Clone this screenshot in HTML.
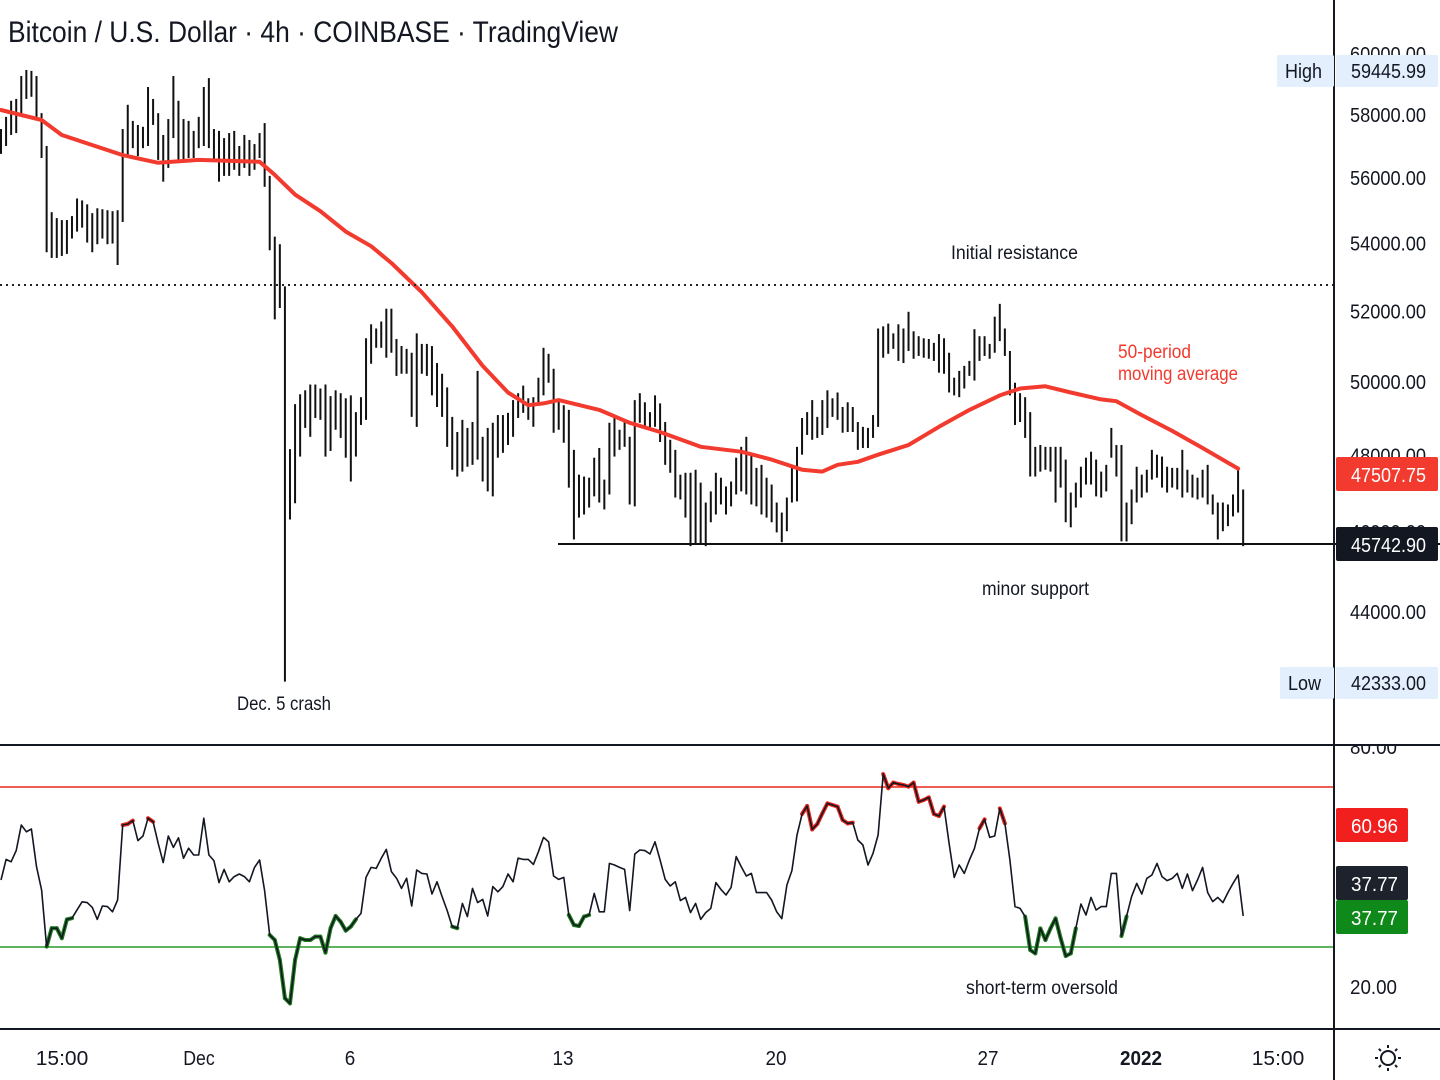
<!DOCTYPE html>
<html><head><meta charset="utf-8"><style>
html,body{margin:0;padding:0;background:#fff;}
svg{display:block;font-family:"Liberation Sans",sans-serif;}
</style></head><body>
<svg id="chart" width="1440" height="1080" viewBox="0 0 1440 1080" xmlns="http://www.w3.org/2000/svg">
<rect x="0" y="0" width="1440" height="1080" fill="#fff"/>
<g id="bars"></g>
<g id="ma"></g>
<g id="rsi"></g>
<g id="ann"></g>
<g id="axes"></g>
</svg>
<script>
const highs=[57550,57940,58460,58520,59270,59470,59440,59270,58060,57010,
54950,54770,54710,54710,54830,55370,55310,55190,54920,55070,
55040,55010,54980,55010,57550,58330,57810,57680,57620,58910,
58520,58060,57360,57870,59270,58460,57870,57810,57490,57940,
58910,59200,57550,57490,57260,57420,57490,57010,57360,57200,
57070,57420,57740,56070,54210,53980,52730,48170,49390,49660,
49770,49930,49930,49820,49930,49610,49770,49690,49550,49630,
49170,49580,51230,51630,51510,51710,52080,52080,51210,51010,
50930,50820,51370,51070,51070,51010,50530,50230,49850,49040,
48630,48960,48740,48900,50310,48500,48740,48880,49090,49090,
49150,49500,49690,49900,49550,49580,50120,50960,50790,50370,
49500,49360,49230,48150,47490,47440,47410,47940,48200,47360,
48880,49010,48690,48960,48500,49500,49690,49440,49170,49630,
49410,48900,48420,48150,47490,47540,47540,47620,47280,46760,
47050,47540,47410,47180,47310,47940,48230,48500,48070,47670,
47750,47410,47230,46760,46500,46890,47700,48230,49010,49170,
49500,49040,49500,49770,49550,49710,49310,49440,49310,48900,
48770,48740,49090,51510,51570,51650,51370,51630,51510,51990,
51430,51290,51230,51210,51100,51350,51230,50820,50120,50310,
50450,50590,51490,51290,51290,51070,51850,52220,51510,50870,
49980,49690,49580,49170,48230,48280,48230,48230,48230,48230,
47890,47020,47280,47700,47940,48100,47890,47570,47750,48740,
48280,48280,46760,47100,47700,47490,47620,48150,48020,47970,
47700,47670,47670,48150,47620,47490,47410,47620,47750,46970,
46760,46760,46710,46970,47700,47100];
const lows=[56760,57010,57360,57420,58060,58520,58590,57940,56630,53740,
53570,53570,53630,53690,54150,54360,54480,54030,53740,53980,
54150,53980,54000,53360,54650,56690,56940,56690,56940,57010,
57680,56570,55890,56320,57260,56510,56570,56630,56630,56940,
57010,56940,56570,55890,56070,56070,56260,56070,56320,56070,
56260,56630,55730,53800,51770,52100,42330,46320,46740,47970,
48740,48500,49010,48960,47970,48120,48690,48470,47940,47310,
47970,48820,48960,50510,50960,50960,50680,50820,50170,50230,
50230,49040,48770,50230,50170,49630,49310,49040,48230,47620,
47440,47570,47700,47750,47890,47310,47050,46920,47940,48070,
48280,48500,49010,49150,48960,48770,49440,49630,49980,48610,
48690,48340,47150,45810,46370,46450,46630,46920,46760,46580,
46970,47970,48150,48230,46710,46660,48880,48770,48740,48770,
48360,47750,47540,46890,46840,46370,45640,45690,45690,45640,
46250,46450,46710,46450,46660,46970,47050,46970,46710,46660,
46450,46370,46250,45990,45740,46020,46760,46790,48020,48550,
48420,48470,48550,48740,49040,48960,48610,48630,48630,48150,
48200,48200,48470,48770,50680,50790,50930,50590,50530,50870,
50650,50730,50680,50650,50590,50260,50230,49710,49630,49580,
49820,50170,50040,50590,50730,50650,50820,51150,50730,49630,
48820,48900,48470,47440,47440,47570,47620,47570,46760,47150,
46250,46120,46630,46890,47230,47230,46920,46890,47050,47940,
47440,45760,45760,46200,46760,46890,47020,47360,47410,47150,
47020,47150,47100,46890,47020,46890,46840,46890,46710,46450,
45810,46020,46150,46400,46500,45640];
const maIdx=[0,8,12,24,31,39,51,54,58,63,68,73,77,83,89,95,100,104,107,110,118,124,130,138,146,152,158,162,165,169,173,179,185,191,197,201,206,211,217,220,225,231,237,244];
const maVal=[58160,57840,57360,56720,56480,56570,56510,56100,55490,54980,54360,53920,53420,52560,51570,50450,49710,49360,49410,49500,49230,48880,48630,48230,48100,47890,47620,47570,47750,47830,48020,48280,48770,49230,49630,49820,49880,49710,49520,49470,49090,48660,48200,47650];
const rsiVals=[46.75,51.9,51.3,54.1,60.5,58.8,59.5,50.1,44.25,30.1,
34.7,34.7,32.2,36.9,37.2,39.3,41.3,41.1,39.9,36.9,
40.25,40.1,38.8,41.75,60.5,60.75,61.6,56.6,57.75,62.2,
61.3,55.9,51.1,57.75,54.9,57.3,52.2,54.7,53,53,
62.2,53,51.6,46.1,49.4,46.3,47.6,48.25,47.6,46.3,
49.9,51.75,44.1,33,31.75,26.75,17.2,15.9,26.75,32.2,
31.75,31.75,32.6,32.6,28.6,34.7,37.75,36.3,34.1,35.1,
36.9,38.4,47.4,49.9,49.65,52.2,54.4,48.85,47.2,44.65,
47.2,40.25,49.25,48.4,
48.25,43.25,46.3,42.6,39.1,35.1,34.7,40.9,37.6,
44.65,41.1,41.9,37.75,45.1,43.8,45.1,48.25,46.3,52.2,
51.9,51.9,50.65,53.8,57.4,56.3,47.75,46.9,47.4,38,
35.5,35.25,37.6,38,43.4,38.8,38.8,50.9,50.5,49.9,
49.4,39.1,53.25,54.25,54.1,53.25,56.3,51.75,46.9,45.25,
46.3,41.6,42.4,38.6,40.9,36.9,38.6,39.65,46.1,44.4,
43,44.9,52.6,50.1,47.75,48.4,43.6,43.6,43.6,41.75,
38.8,37.1,45.5,49.1,58,63.25,65.25,59.4,60.75,63.4,
65.9,65.5,
65.1,61.75,60.9,61.1,56.75,55.5,50.5,53.4,58,73.25,
69.7,71.1,70.75,70.5,70.1,71.1,66.3,66.75,67.4,63.25,
62.75,65.1,55.9,47.4,50.5,48.4,51.75,54.6,59.65,61.9,
57.4,57.75,64.65,60.9,51.75,40.1,39.65,37.6,29.25,
28.4,34.65,31.75,34.65,37.15,32.2,27.75,28.4,34.65,40.75,
38,42.4,39.25,40.1,40.1,48.4,48.4,32.75,37.6,42.6,
45.9,43.25,47.15,48,50.9,47.6,46.6,47.15,48.4,44.65,
48.25,44.1,46.75,49.9,43.6,41.35,42.4,41.1,43.6,45.9,
48,37.75];
const priceTicks=[60000,58000,56000,54000,52000,50000,48000,46000,44000];
const rsiTicks=[80,20];
const xLabels=["15:00","Dec","6","13","20","27","2022","15:00"];

const NS="http://www.w3.org/2000/svg";
const X0=1, DX=5.07;
function xs(i){return X0+i*DX;}
function ys(p){return 115+1799*Math.log(58000/p);}
function yr(v){return 747+(80-v)*4;}
function el(tag,attrs,parent,txt){const e=document.createElementNS(NS,tag);for(const k in attrs)e.setAttribute(k,attrs[k]);if(txt!==undefined)e.textContent=txt;parent.appendChild(e);return e;}

const bars=document.getElementById('bars');
for(let i=0;i<highs.length;i++){
  const l=el('line',{x1:xs(i),x2:xs(i),y1:ys(highs[i]),y2:ys(lows[i]),stroke:'#111',"stroke-width":2},bars);
  
  
}
const ma=document.getElementById('ma');
let d='';
for(let k=0;k<maIdx.length;k++){d+=(k?'L':'M')+xs(maIdx[k]).toFixed(1)+' '+ys(maVal[k]).toFixed(1);}
const mal=el('path',{d:d,fill:'none',stroke:'#f23a2e',"stroke-width":4,"stroke-linejoin":"round","stroke-linecap":"round"},ma);



const rsi=document.getElementById('rsi');
const rl1=el('line',{x1:0,x2:1334,y1:yr(70),y2:yr(70),stroke:'#e8261c',"stroke-width":1.5},rsi);


const rl2=el('line',{x1:0,x2:1334,y1:yr(30),y2:yr(30),stroke:'#2a9a2a',"stroke-width":1.5},rsi);


for(let i=0;i<rsiVals.length-1;i++){
  const a=rsiVals[i],b=rsiVals[i+1];
  let c=null;
  if(a>=59&&b>=59)c='#e8261c'; else if(a<=38&&b<=38)c='#1d7a1d';
  if(c){const s=el('line',{x1:xs(i),x2:xs(i+1),y1:yr(a),y2:yr(b),stroke:c,"stroke-width":4,"stroke-linecap":"round"},rsi);
    
    }
}
let rd='';
for(let i=0;i<rsiVals.length;i++){rd+=(i?'L':'M')+xs(i).toFixed(1)+' '+yr(rsiVals[i]).toFixed(1);}
const rp=el('path',{d:rd,fill:'none',stroke:'#131722',"stroke-width":1.6,"stroke-linejoin":"round"},rsi);



const ann=document.getElementById('ann');
function txt(x,y,s,size,len,fill,anchor,name,weight){
  const t=el('text',{x:x,y:y,"font-size":size,fill:fill||'#131722',"text-anchor":anchor||'start',textLength:len,lengthAdjust:'spacingAndGlyphs',"font-weight":weight||'normal'},ann,s);
  
  
  return t;
}
const dl=el('line',{x1:0,x2:1334,y1:285,y2:285,stroke:'#222',"stroke-width":2,"stroke-dasharray":"2 4"},ann);


const sl=el('line',{x1:558,x2:1440,y1:544,y2:544,stroke:'#111',"stroke-width":2},ann);


txt(8,42,'Bitcoin / U.S. Dollar · 4h · COINBASE · TradingView',30,610,'#131722','start','chart-title');
txt(951,259,'Initial resistance',19,127,'#131722','start','initial-resistance-label');
txt(1118,358,'50-period',19,73,'#f23a2e','start','ma-label-line1');
txt(1118,380,'moving average',19,120,'#f23a2e','start','ma-label-line2');
txt(982,595,'minor support',19,107,'#131722','start','minor-support-label');
txt(237,710,'Dec. 5 crash',19,94,'#131722','start','crash-label');
txt(966,994,'short-term oversold',19,152,'#131722','start','oversold-label');

const ax=document.getElementById('axes');
function ln(x1,y1,x2,y2,name){const l=el('line',{x1:x1,y1:y1,x2:x2,y2:y2,stroke:'#131722',"stroke-width":2},ax);}
function atxt(x,y,s,len,fill,anchor,name,weight){
  const t=el('text',{x:x,y:y,"font-size":20,fill:fill,"text-anchor":anchor||'start',textLength:len,lengthAdjust:'spacingAndGlyphs',"font-weight":weight||'normal'},ax,s);
  
  
}
priceTicks.forEach(p=>{atxt(1350,ys(p)+7,p.toFixed(2),76,'#131722','start','price-tick-label');});
rsiTicks.forEach(v=>{atxt(1350,yr(v)+7,v.toFixed(2),47,'#131722','start','rsi-tick-label');});
const cover=el('rect',{x:1336,y:728,width:104,height:17,fill:'#fff'},ax);


ln(0,745,1440,745,'pane-separator');
ln(0,1029,1440,1029,'time-axis-line');
ln(1334,0,1334,1080,'price-axis-line');
function box(x,y,w,h,fill,name){const r=el('rect',{x:x,y:y,width:w,height:h,fill:fill,rx:2},ax);}
box(1277,55,57,32,'#e3effd','high-label-box'); box(1336,55,102,32,'#e3effd','high-value-box');
atxt(1285,78,'High',37,'#131722','start','high-label');
atxt(1351,78,'59445.99',75,'#131722','start','high-value');
box(1280,667,54,32,'#e3effd','low-label-box'); box(1336,667,102,32,'#e3effd','low-value-box');
atxt(1288,690,'Low',33,'#131722','start','low-label');
atxt(1351,690,'42333.00',75,'#131722','start','low-value');
box(1336,457,102,34,'#f23a2e','ma-price-box');
atxt(1351,482,'47507.75',75,'#fff','start','ma-price-value');
box(1336,527,102,34,'#131722','last-price-box');
atxt(1351,552,'45742.90',75,'#fff','start','last-price-value');
box(1336,808,72,34,'#f21f1f','rsi-upper-box');
atxt(1351,833,'60.96',47,'#fff','start','rsi-upper-value');
box(1336,866,72,34,'#1e222d','rsi-value-box');
atxt(1351,891,'37.77',47,'#fff','start','rsi-value');
box(1336,900,72,34,'#0f8a1a','rsi-ma-box');
atxt(1351,925,'37.77',47,'#fff','start','rsi-ma-value');
const xpos=[62,199,350,563,776,988,1141,1278];
xLabels.forEach((s,k)=>{atxt(xpos[k],1065,s,s.length*10.5,'#131722','middle','time-tick-label',s==='2022'?'bold':'normal');});
const sun=el('g',{transform:'translate(1388,1058)'},ax);


el('circle',{cx:0,cy:0,r:7,fill:'none',stroke:'#131722',"stroke-width":2},sun);
for(let a=0;a<8;a++){const t=a*Math.PI/4;el('line',{x1:10*Math.cos(t),y1:10*Math.sin(t),x2:13*Math.cos(t),y2:13*Math.sin(t),stroke:'#131722',"stroke-width":2},sun);}
</script>
</body></html>
